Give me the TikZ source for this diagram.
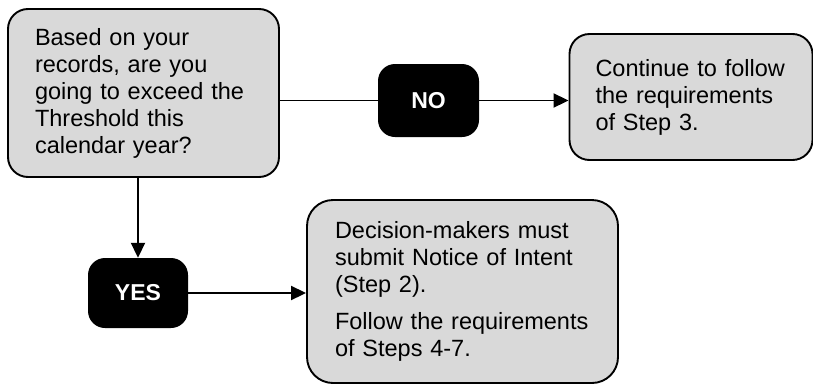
\documentclass[tikz,border=0pt]{standalone}
\usepackage{fontspec}
\setmainfont{Liberation Sans}
\usepackage{tikz}
\usetikzlibrary{arrows.meta, positioning}
\definecolor{boxgray}{HTML}{D9D9D9}

\begin{document}
\begin{tikzpicture}[x=1pt,y=1pt,on grid,>={Triangle[length=15pt,width=14pt]}]
    \tikzstyle{box}=[shape=rectangle,draw,fill=boxgray,line width=1.9pt,rounded corners=20pt,align=left,
        font=\fontsize{23.5}{27}\selectfont]
    \tikzstyle{answer}=[shape=rectangle,rounded corners=17pt,fill=black,text=white,
        minimum width=101pt,minimum height=73pt,font=\fontsize{23}{27}\selectfont\bfseries]
    \tikzstyle{flow}=[->,line width=1.9pt]

    \useasboundingbox (0,0) rectangle (813,-386);

    \node[box,inner xsep=27pt,text width=217pt,minimum width=271pt,minimum height=168pt] (q) at (143.5,-93)
        {Based on your\\records, are you\\going to exceed the\\Threshold this\\calendar year?};

    \node[answer,right=285pt of q,yshift=-7.5pt] (no) {NO};
    \node[box,inner xsep=26pt,text width=191pt,minimum width=243pt,minimum height=126pt,
        right=262.5pt of no,yshift=3.5pt] (cont)
        {Continue to follow\\the requirements\\of Step 3.};

    \node[answer,below=200pt of q,xshift=-5.5pt,minimum height=70pt,minimum width=100pt] (yes) {YES};
    \node[box,inner xsep=28pt,text width=255pt,minimum width=311pt,minimum height=183pt,rounded corners=26pt,
        right=324.5pt of yes,yshift=1.5pt] (dec)
        {Decision-makers must\\submit Notice of Intent\\(Step 2).\\[10pt]Follow the requirements\\of Steps 4-7.};

    \draw[line width=1.9pt] (q.east |- no.west) -- (no.west);
    \draw[flow] (no.east) -- (no.east -| cont.west);
    \draw[flow] (yes.north |- q.south) -- (yes.north);
    \draw[flow] (yes.east) -- (yes.east -| dec.west);

\end{tikzpicture}
\end{document}
